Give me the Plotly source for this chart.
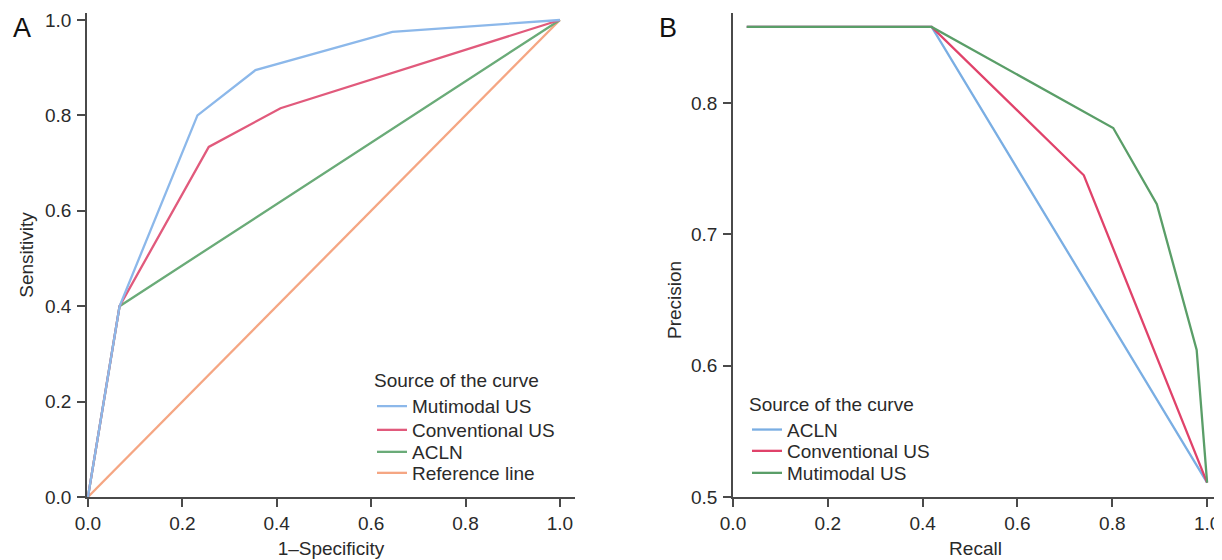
import plotly.graph_objects as go

# ---- Panel A: ROC curves ----
roc_names = ["Mutimodal US", "Conventional US", "ACLN", "Reference line"]
roc_fpr = [
    [0.0, 0.067, 0.232, 0.355, 0.645, 1.0],
    [0.0, 0.067, 0.256, 0.408, 1.0],
    [0.0, 0.067, 1.0],
    [0.0, 1.0],
]
roc_tpr = [
    [0.0, 0.4, 0.800, 0.895, 0.975, 1.0],
    [0.0, 0.4, 0.734, 0.815, 1.0],
    [0.0, 0.4, 1.0],
    [0.0, 1.0],
]
roc_colors = ["#8cb8ea", "#e15a7c", "#6aab78", "#f5a683"]

# ---- Panel B: Precision-recall curves ----
pr_names = ["ACLN", "Conventional US", "Mutimodal US"]
pr_recall = [
    [0.029, 0.419, 1.0],
    [0.029, 0.419, 0.740, 1.0],
    [0.029, 0.419, 0.802, 0.894, 0.978, 1.0],
]
pr_precision = [
    [0.858, 0.858, 0.511],
    [0.858, 0.858, 0.745, 0.511],
    [0.858, 0.858, 0.781, 0.723, 0.612, 0.511],
]
pr_colors = ["#7aaee3", "#e0426a", "#5a9e68"]

legend_title = "Source of the curve"

# page body has an 8px margin; figure is sized to fit the 1222x560 window
OFF = 8
W, H = 1222 - OFF, 560 - OFF
FONT = "Liberation Sans, Arial, Helvetica, sans-serif"
TXT = "#2a2a2a"
AX = "#4a4a4a"
FS = 19
LW = 2.3


def px(v):
    return (v - OFF) / W


def py(v):
    return 1 - (v - OFF) / H


# legend placement (screen pixels): one legend per entry for exact spacing
A_LEG_X = 372
B_LEG_X = 747
a_leg_y = [406.5, 430, 452, 473]
b_leg_y = [430, 451, 473]

fig = go.Figure()

layout_legends = {}
for i in [3, 2, 1, 0]:
    lname = "legend" if i == 0 else f"legend{i + 1}"
    fig.add_trace(go.Scatter(
        x=roc_fpr[i], y=roc_tpr[i], mode="lines", name=roc_names[i],
        line=dict(color=roc_colors[i], width=LW),
        xaxis="x", yaxis="y", legend=lname,
    ))
for i in range(3):
    lname = f"legend{i + 5}"
    fig.add_trace(go.Scatter(
        x=pr_recall[i], y=pr_precision[i], mode="lines", name=pr_names[i],
        line=dict(color=pr_colors[i], width=LW),
        xaxis="x2", yaxis="y2", legend=lname,
    ))

leg_common = dict(
    bgcolor="rgba(0,0,0,0)", borderwidth=0, xanchor="left",
    font=dict(family=FONT, size=FS, color=TXT),
    itemwidth=30, tracegroupgap=0,
)
for i in range(4):
    lname = "legend" if i == 0 else f"legend{i + 1}"
    d = dict(leg_common, x=px(A_LEG_X))
    if i == 0:
        d.update(y=py(a_leg_y[0] - 44), yanchor="top",
                 title=dict(text=legend_title, font=dict(family=FONT, size=FS, color=TXT)))
    else:
        d.update(y=py(a_leg_y[i]), yanchor="middle")
    layout_legends[lname] = d
for i in range(3):
    lname = f"legend{i + 5}"
    d = dict(leg_common, x=px(B_LEG_X))
    if i == 0:
        d.update(y=py(b_leg_y[0] - 44), yanchor="top",
                 title=dict(text=legend_title, font=dict(family=FONT, size=FS, color=TXT)))
    else:
        d.update(y=py(b_leg_y[i]), yanchor="middle")
    layout_legends[lname] = d

axis_common = dict(
    showgrid=False, zeroline=False, showline=True, linecolor=AX, linewidth=1.5,
    ticks="outside", ticklen=8, tickwidth=1.5, tickcolor=AX,
    tickfont=dict(family=FONT, size=FS, color=TXT),
    title_font=dict(family=FONT, size=FS, color=TXT),
    fixedrange=True, automargin=False,
)

fig.update_layout(
    width=W, height=H,
    margin=dict(l=0, r=0, t=0, b=0, autoexpand=False),
    paper_bgcolor="white", plot_bgcolor="white",
    font=dict(family=FONT, size=FS, color=TXT),
    showlegend=True,
    xaxis=dict(axis_common, domain=[px(87), px(575)], range=[-0.002, 1.032],
               tickvals=[0, 0.2, 0.4, 0.6, 0.8, 1.0], tickformat=".1f",
               title=dict(text="1\u2013Specificity", standoff=9), anchor="y"),
    yaxis=dict(axis_common, domain=[py(497), py(13)], range=[0, 1.0147],
               tickvals=[0, 0.2, 0.4, 0.6, 0.8, 1.0], tickformat=".1f",
               ticklabelstandoff=2,
               title=dict(text="Sensitivity", standoff=6), anchor="x"),
    xaxis2=dict(axis_common, domain=[px(733), px(1218)], range=[0, 1.023],
                tickvals=[0, 0.2, 0.4, 0.6, 0.8, 1.0], tickformat=".1f",
                title=dict(text="Recall", standoff=9), anchor="y2"),
    yaxis2=dict(axis_common, domain=[py(497), py(13)], range=[0.5, 0.8686],
                tickvals=[0.5, 0.6, 0.7, 0.8], tickformat=".1f",
                ticklabelstandoff=2,
                title=dict(text=""), anchor="x2"),
    annotations=[
        dict(text="A", x=px(22), y=py(28), xref="paper", yref="paper",
             xanchor="center", yanchor="middle", showarrow=False,
             font=dict(family=FONT, size=27, color="#111111")),
        dict(text="B", x=px(668), y=py(28), xref="paper", yref="paper",
             xanchor="center", yanchor="middle", showarrow=False,
             font=dict(family=FONT, size=27, color="#111111")),
        dict(text="Precision", x=px(674), y=py(300), xref="paper", yref="paper",
             xanchor="center", yanchor="middle", showarrow=False, textangle=-90,
             font=dict(family=FONT, size=FS, color=TXT)),
    ],
    **layout_legends,
)

fig.write_html("out.html")
